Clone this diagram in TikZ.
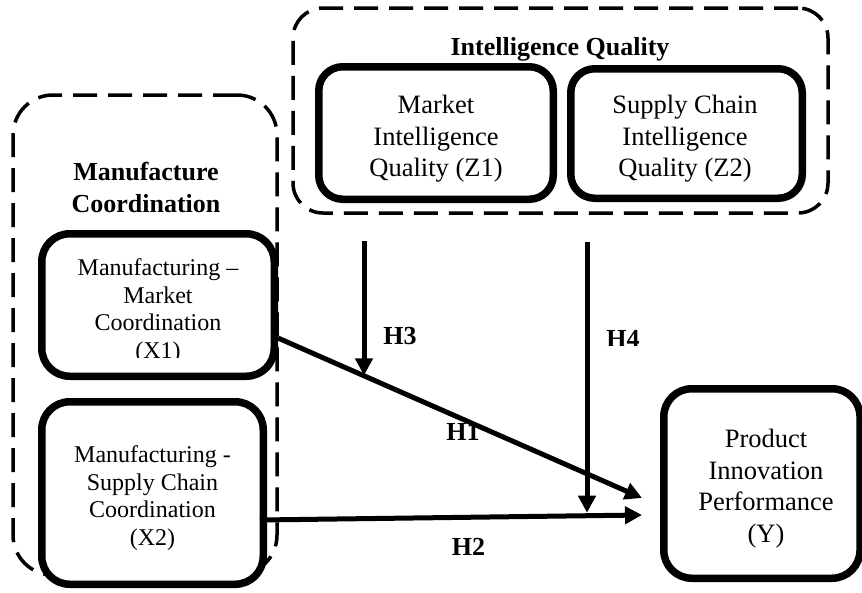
\documentclass[tikz,border=0pt]{standalone}
\usepackage{fontspec}
\setmainfont{Liberation Serif}
\usetikzlibrary{arrows.meta,calc}
\begin{document}
\begin{tikzpicture}[x=1pt,y=-1pt,
  groupbox/.style={draw, dash pattern=on 24pt off 11pt, line width=3.5pt, inner sep=0pt},
  thickbox/.style={draw, line width=7.5pt, fill=white, inner sep=0pt},
  boxtext/.style={align=center, inner sep=0pt, anchor=north, font=\fontsize{24}{27.5}\selectfont},
  bigtext/.style={align=center, inner sep=0pt, anchor=north, font=\fontsize{26.5}{31.5}\selectfont},
  titletext/.style={align=center, inner sep=0pt, anchor=north, font=\bfseries\fontsize{26}{32}\selectfont},
  hlabel/.style={inner sep=0pt, anchor=base, font=\bfseries\fontsize{26}{30}\selectfont},
  arr/.style={line width=5pt, -{Triangle[length=17pt,width=17pt]}}]
\useasboundingbox (0,0) rectangle (862,592);

% group frames
\node[groupbox, rounded corners=30pt, minimum width=535pt, minimum height=205pt] (IQ) at (560.5,110.5) {};
\node[groupbox, rounded corners=40pt, minimum width=264pt, minimum height=480pt] (MC) at (145,335) {};

% boxes
\node[thickbox, rounded corners=24pt, minimum width=234.5pt, minimum height=132.5pt] (Z1) at (436,133) {};
\node[thickbox, rounded corners=24pt, minimum width=231.5pt, minimum height=129.5pt] (Z2) at (686.5,133.5) {};
\node[thickbox, rounded corners=28pt, minimum width=232.5pt, minimum height=142.5pt] (X1) at (158,305) {};
\node[thickbox, rounded corners=28pt, minimum width=221.5pt, minimum height=182.5pt] (X2) at (152.5,493) {};
\node[thickbox, rounded corners=28pt, minimum width=196.25pt, minimum height=189.5pt] (Y) at (761.9,483.5) {};

% texts
\node[titletext] (IQt) at (560,37) {Intelligence Quality};
\node[titletext] (MCt) at (146,162) {Manufacture\\Coordination};
\node[bigtext] (Z1t) at (436,95) {Market\\Intelligence\\Quality (Z1)};
\node[bigtext] (Z2t) at (685,95) {Supply Chain\\Intelligence\\Quality (Z2)};
\begin{scope}
  \clip (40,240) rectangle (276,357);
  \node[boxtext] (X1t) at (158,258.6) {Manufacturing –\\Market\\Coordination\\(X1)};
\end{scope}
\node[boxtext] (X2t) at (152.5,445.6) {Manufacturing -\\Supply Chain\\Coordination\\(X2)};
\node[bigtext] (Yt) at (766,429) {Product\\Innovation\\Performance\\(Y)};

% connector end points
\coordinate (h1s) at ([yshift=-33pt]X1.east);
\coordinate (h1e) at ([xshift=-18pt,yshift=-14.5pt]Y.west);
\coordinate (h2s) at ([xshift=-7pt,yshift=-27pt]X2.east);
\coordinate (h2e) at ([xshift=-18pt,yshift=-31.5pt]Y.west);
\coordinate (h3s) at ([xshift=-72pt,yshift=-38pt]Z1.south);
\coordinate (h4s) at ([xshift=-99.5pt,yshift=-40pt]Z2.south);
\coordinate (h3e) at ($(h1s)!0.234!(h1e)$);
\coordinate (h4e) at ($(h2s)!0.856!(h2e)+(0,-3)$);

\draw[arr] (h1s) -- (h1e);
\draw[arr] (h2s) -- (h2e);
\draw[arr] (h3s) -- (h3s |- h3e);
\draw[arr] (h4s) -- (h4s |- h4e);

% labels
\node[hlabel] (H3) at (400,344) {H3};
\begin{scope}
  \clip (600,320) rectangle (650,345);
  \node[hlabel] (H4) at (623,347) {H4};
\end{scope}
\begin{scope}
  \clip (440,422) rectangle (490,460);
  \node[hlabel] (H1) at (463,440) {H1};
\end{scope}
\node[hlabel] (H2) at (468.5,555) {H2};
\end{tikzpicture}
\end{document}
